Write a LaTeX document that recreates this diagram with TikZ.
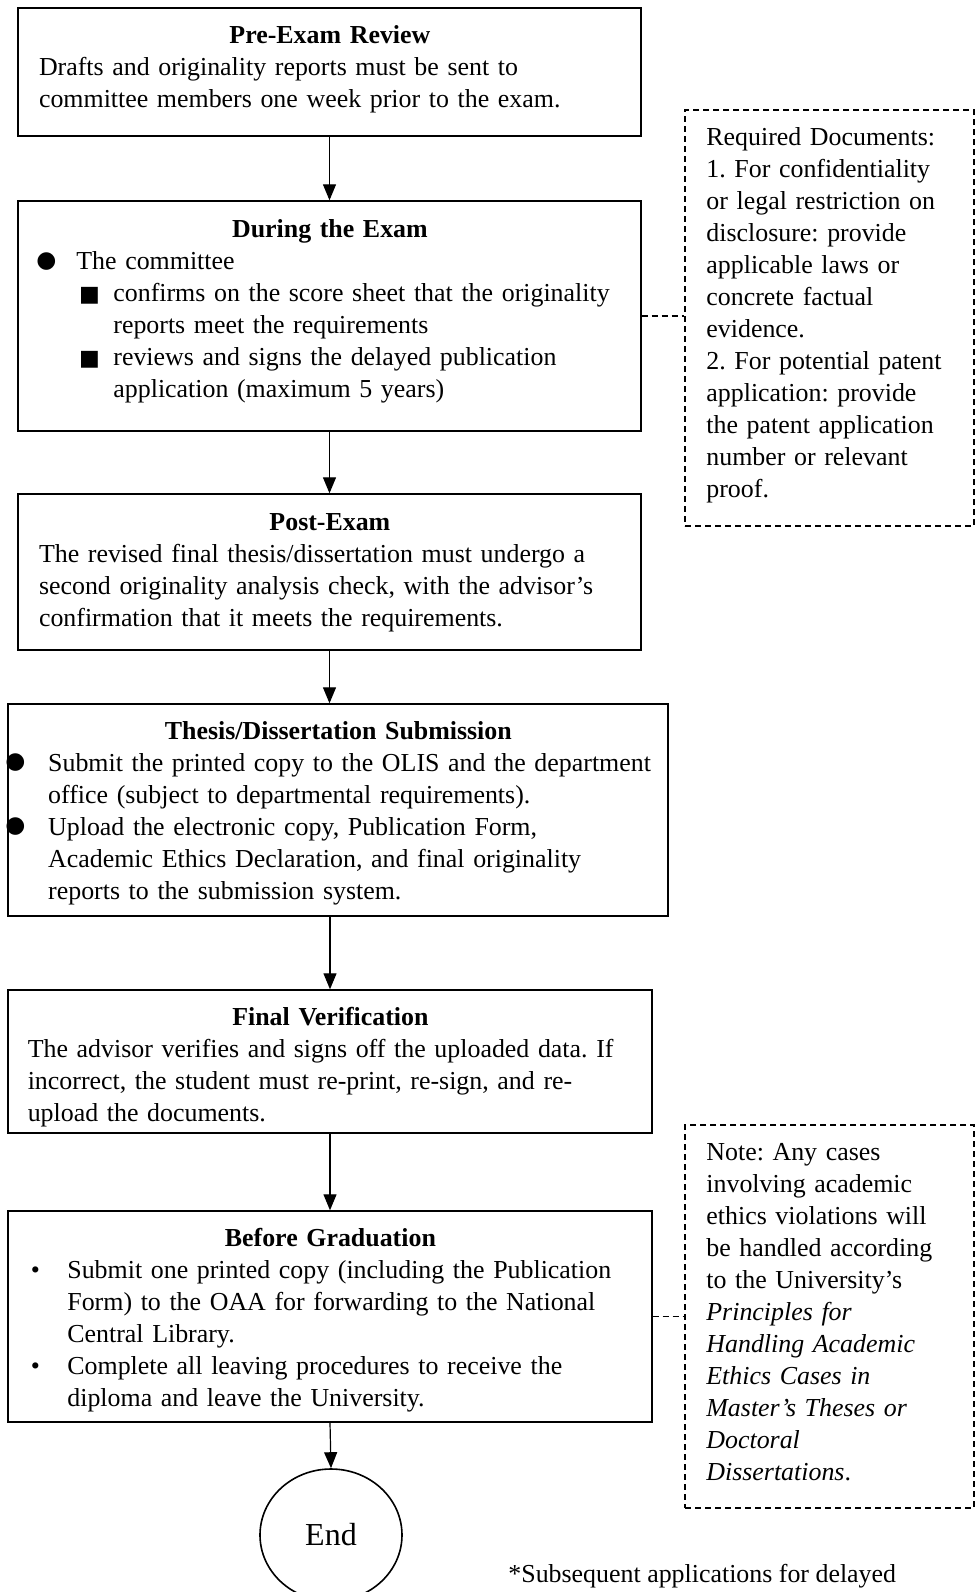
\documentclass[tikz,border=0pt]{standalone}
\usepackage{fontspec}
\setmainfont{Liberation Serif}
\newfontfamily\symfont{DejaVu Sans}
\usetikzlibrary{arrows.meta,shapes.geometric}
\frenchspacing
\newcommand{\putitem}[3]{\hspace*{#1}\makebox[0pt]{#2}\hspace*{#3}}
\newcommand{\bigdot}{\raisebox{1.2pt}{\symfont\fontsize{11.5}{11.5}\selectfont ●}}
\newcommand{\sqdot}{\raisebox{0.2pt}{\symfont\fontsize{11}{11}\selectfont ■}}
\begin{document}
\begin{tikzpicture}[x=0.5pt, y=-0.5pt,
    font=\fontsize{12.95}{16}\selectfont,
    stage/.style={draw, line width=0.7pt, minimum width=311.5pt, inner sep=0pt},
    txt/.style={anchor=base west, inner sep=0pt},
    info/.style={draw, dash pattern=on 3pt off 2pt, line width=0.7pt, minimum width=144.5pt, inner sep=0pt},
    flow/.style={-{Triangle[length=8pt,width=6.5pt]}, line width=0.6pt},
    link/.style={dash pattern=on 3pt off 2pt, line width=0.7pt}]
  \useasboundingbox (0,0) rectangle (976,1592);
  \node[stage, minimum height=64pt] (pre) at (329.5,72) {};
  \node[stage, minimum height=115pt] (during) at (329.5,316) {};
  \node[stage, minimum height=78pt] (post) at (329.5,572) {};
  \node[stage, minimum width=330pt, minimum height=106pt] (submit) at (338,810) {};
  \node[stage, minimum width=322pt, minimum height=71.5pt] (verify) at (330,1061.5) {};
  \node[stage, minimum width=322pt, minimum height=105.5pt] (grad) at (330,1316.5) {};
  \node[draw, ellipse, line width=0.8pt, minimum width=71pt, minimum height=66pt,
    font=\fontsize{16}{16}\selectfont] (stop) at (331,1535) {End};
  \node[info, minimum height=208pt] (docs) at (829.5,318) {};
  \node[info, minimum height=191.5pt] (note) at (829.5,1316.5) {};

  \node[txt, text width=311.5pt] (pretxt) at (18,43.5) {{\centering\bfseries Pre-Exam Review\par}
    \hspace*{10.3pt}Drafts and originality reports must be sent to\\
    \hspace*{10.3pt}committee members one week prior to the exam.};
  \node[txt, text width=311.5pt] (duringtxt) at (18,237.5) {{\centering\bfseries During the Exam\par}
    \putitem{14pt}{\bigdot}{15pt}The committee\\
    \putitem{35.5pt}{\sqdot}{12pt}confirms on the score sheet that the originality\\
    \hspace*{47.5pt}reports meet the requirements\\
    \putitem{35.5pt}{\sqdot}{12pt}reviews and signs the delayed publication\\
    \hspace*{47.5pt}application (maximum 5 years)};
  \node[txt, text width=311.5pt] (posttxt) at (18,530) {{\centering\bfseries Post-Exam\par}
    \hspace*{10.3pt}The revised final thesis/dissertation must undergo a\\
    \hspace*{10.3pt}second originality analysis check, with the advisor’s\\
    \hspace*{10.3pt}confirmation that it meets the requirements.};
  \node[txt, text width=330pt] (submittxt) at (8,739) {{\centering\bfseries Thesis/Dissertation Submission\par}
    \putitem{3.5pt}{\bigdot}{16.4pt}Submit the printed copy to the OLIS and the department\\
    \hspace*{19.9pt}office (subject to departmental requirements).\\
    \putitem{3.5pt}{\bigdot}{16.4pt}Upload the electronic copy, Publication Form,\\
    \hspace*{19.9pt}Academic Ethics Declaration, and final originality\\
    \hspace*{19.9pt}reports to the submission system.};
  \node[txt, text width=322pt] (verifytxt) at (8,1025.5) {{\centering\bfseries Final Verification\par}
    \hspace*{9.7pt}The advisor verifies and signs off the uploaded data. If\\
    \hspace*{9.7pt}incorrect, the student must re-print, re-sign, and re-\\
    \hspace*{9.7pt}upload the documents.};
  \node[txt, text width=322pt] (gradtxt) at (8,1246) {{\centering\bfseries Before Graduation\par}
    \putitem{13.5pt}{\textbullet}{16pt}Submit one printed copy (including the Publication\\
    \hspace*{29.5pt}Form) to the OAA for forwarding to the National\\
    \hspace*{29.5pt}Central Library.\\
    \putitem{13.5pt}{\textbullet}{16pt}Complete all leaving procedures to receive the\\
    \hspace*{29.5pt}diploma and leave the University.};
  \node[txt, text width=134pt] (docstxt) at (706,145) {Required Documents:\\
    1. For confidentiality\\
    or legal restriction on\\
    disclosure: provide\\
    applicable laws or\\
    concrete factual\\
    evidence.\\
    2. For potential patent\\
    application: provide\\
    the patent application\\
    number or relevant\\
    proof.};
  \node[txt, text width=134pt] (notetxt) at (706,1160) {Note: Any cases\\
    involving academic\\
    ethics violations will\\
    be handled according\\
    to the University’s\\
    \textit{Principles for}\\
    \textit{Handling Academic}\\
    \textit{Ethics Cases in}\\
    \textit{Master’s Theses or}\\
    \textit{Doctoral}\\
    \textit{Dissertations}.};
  \node[txt] (foot) at (508,1582) {*Subsequent applications for delayed};

  \draw[flow] (pre) -- (during);
  \draw[flow] (during) -- (post);
  \draw[flow] (post.south) -- (post.south |- submit.north);
  \draw[flow] (verify.north |- submit.south) -- (verify.north);
  \draw[flow] (verify) -- (grad);
  \draw[flow] (grad.south) -- (stop.north);
  \draw[link] (during.east) -- (docs.west |- during.east);
  \draw[link] (grad.east) -- (note.west |- grad.east);
\end{tikzpicture}
\end{document}
